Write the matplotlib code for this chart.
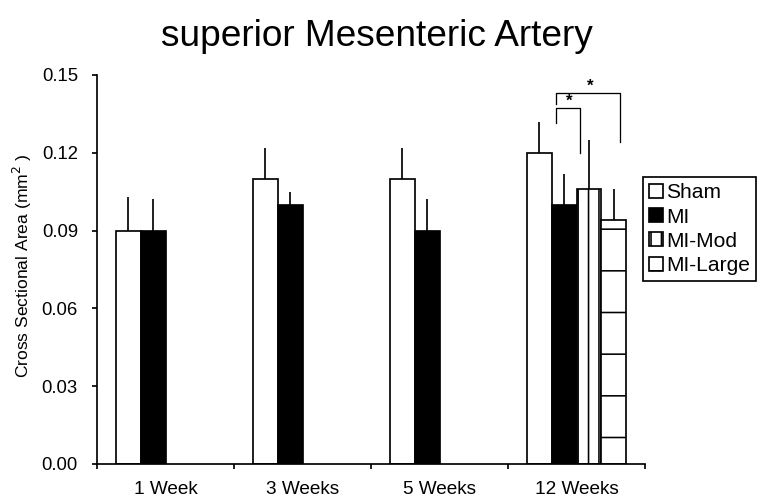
import matplotlib
matplotlib.use("Agg")
import matplotlib.pyplot as plt
import numpy as np

DPI = 250
def px(v):
    # pixel size -> points at this dpi
    return v * 72 / DPI

plt.rcParams["font.family"] = ["Liberation Sans", "DejaVu Sans"]
plt.rcParams["hatch.linewidth"] = px(1.6)
plt.rcParams["hatch.color"] = "black"

weeks = ["1 Week", "3 Weeks", "5 Weeks", "12 Weeks"]
sham_mean = [0.090, 0.110, 0.110, 0.120]
sham_err = [0.013, 0.012, 0.012, 0.012]
mi_mean = [0.090, 0.100, 0.090, 0.100]
mi_err = [0.012, 0.005, 0.012, 0.012]
mod_mean = [0.106]
mod_err = [0.019]
large_mean = [0.094]
large_err = [0.012]

fig = plt.figure(figsize=(761 / DPI, 504 / DPI), dpi=DPI)
ax = fig.add_axes([97 / 761, 40 / 504, 548 / 761, 389 / 504])

w = 0.182
x = np.arange(len(weeks))
lw = px(1.7)

groups = [
    ("Sham", x, sham_mean, sham_err, "white", ""),
    ("MI", x, mi_mean, mi_err, "black", ""),
    ("MI-Mod", x[3:], mod_mean, mod_err, "white", "||||"),
    ("MI-Large", x[3:], large_mean, large_err, "white", "-"),
]
handles = []
for k, (name, xs, m, e, fc, hatch) in enumerate(groups):
    pos = xs + (k - 1.5) * w
    b = ax.bar(pos, m, width=w, color=fc, edgecolor="black", linewidth=lw,
               hatch=hatch, label=name, zorder=2)
    handles.append(b)
    ax.errorbar(pos, m, yerr=[np.zeros(len(m)), e], fmt="none", ecolor="black",
                elinewidth=lw, capsize=0, zorder=1)

# significance brackets over 12 weeks
c = 3
def bracket(x0, x1, y_top, y_l, y_r, ys):
    ax.plot([c + x0, c + x0, c + x1, c + x1], [y_l, y_top, y_top, y_r],
            color="black", lw=px(1.3), clip_on=False)
    ax.text(c + (x0 + x1) / 2 + 0.01, ys, "*", ha="center", va="center",
            fontsize=px(17), fontweight="bold")

bracket(-0.146, 0.022, 0.1373, 0.1315, 0.120, 0.1400)
bracket(-0.146, 0.321, 0.1430, 0.1390, 0.124, 0.1455)

ax.set_xlim(-0.5, 3.5)
ax.set_ylim(0, 0.15)
ax.set_yticks(np.arange(0, 0.151, 0.03))
ax.set_yticklabels([f"{v:.2f}" for v in np.arange(0, 0.151, 0.03)])
ax.set_xticks(x)
ax.set_xticklabels(weeks)
ax.set_xticks(np.arange(-0.5, 3.6, 1), minor=True)
ax.tick_params(axis="x", which="major", length=0, pad=px(17), labelsize=px(19))
ax.tick_params(axis="x", which="minor", length=px(5), width=lw)
ax.tick_params(axis="y", length=px(5), width=lw, pad=px(14), labelsize=px(18.5))
for s in ["top", "right"]:
    ax.spines[s].set_visible(False)
for s in ["left", "bottom"]:
    ax.spines[s].set_linewidth(lw)

ax.set_ylabel("Cross Sectional Area (mm$^2$ )", fontsize=px(17.5))
ax.yaxis.set_label_coords(-63 / 548, 0.51)

fig.text(0.495, 0.928, "superior Mesenteric Artery", ha="center", va="center",
         fontsize=px(37))

leg = ax.legend(handles=handles, loc="upper left",
                bbox_to_anchor=(643 / 761, 1 - 177 / 504),
                bbox_transform=fig.transFigure, fontsize=px(21),
                fancybox=False, edgecolor="black", framealpha=1,
                handlelength=0.65, handleheight=0.65, handletextpad=0.15,
                borderpad=0.3, labelspacing=0.25, borderaxespad=0)
leg.get_frame().set_linewidth(lw)

fig.savefig("out.png", dpi=DPI)
